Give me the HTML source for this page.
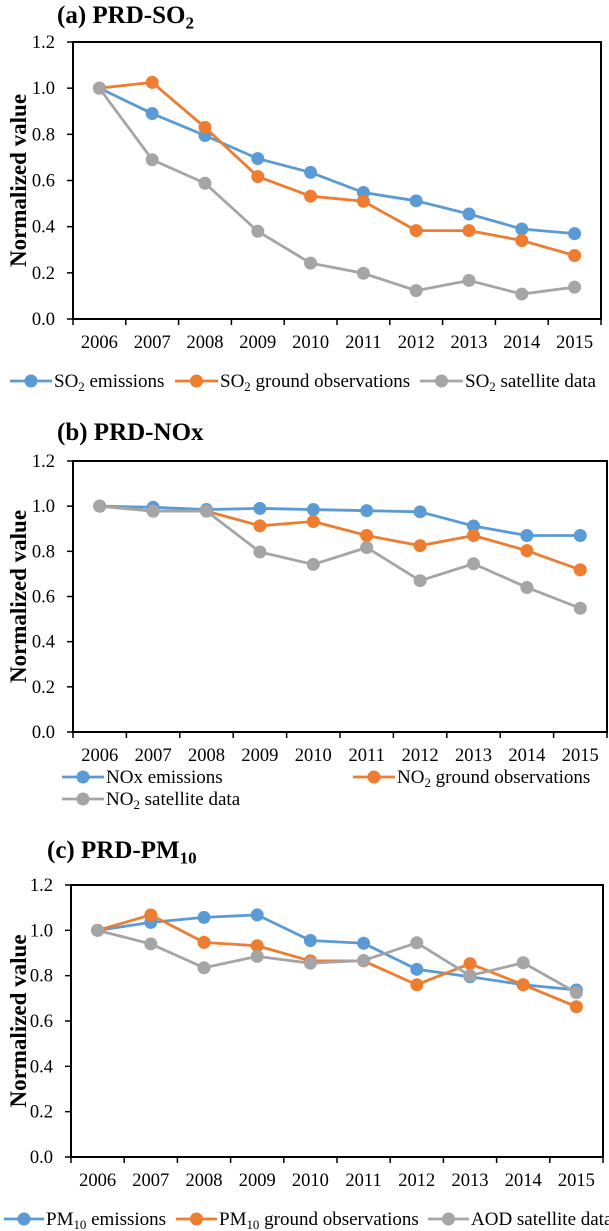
<!DOCTYPE html>
<html><head><meta charset="utf-8"><style>
html,body{margin:0;padding:0;background:#fff;}
svg{display:block;}
svg text{font-family:"Liberation Serif",serif;}
</style></head><body>
<svg id="fig" width="609" height="1231" viewBox="0 0 609 1231" xmlns="http://www.w3.org/2000/svg"></svg>
<script>
const years = ["2006","2007","2008","2009","2010","2011","2012","2013","2014","2015"];
const yTicks = [0,0.2,0.4,0.6,0.8,1.0,1.2];
const so2Emis = [1,0.89,0.795,0.695,0.635,0.548,0.512,0.455,0.39,0.37];
const so2Ground = [1,1.025,0.83,0.617,0.532,0.51,0.383,0.383,0.34,0.275];
const so2Sat = [1,0.69,0.588,0.38,0.242,0.198,0.123,0.167,0.108,0.138];
const noxEmis = [1,0.995,0.985,0.99,0.985,0.98,0.975,0.912,0.87,0.87];
const no2Ground = [1,0.978,0.978,0.913,0.932,0.87,0.825,0.87,0.803,0.718];
const no2Sat = [1,0.978,0.978,0.797,0.742,0.817,0.67,0.745,0.64,0.548];
const pmEmis = [1,1.035,1.057,1.068,0.955,0.943,0.828,0.795,0.76,0.737];
const pmGround = [1,1.068,0.947,0.932,0.865,0.865,0.76,0.853,0.76,0.663];
const aodSat = [1,0.94,0.835,0.885,0.855,0.867,0.945,0.80,0.857,0.725];

const NS="http://www.w3.org/2000/svg";
const svg=document.getElementById('fig');
const COL={blue:"#5B9BD5",orange:"#ED7D31",gray:"#A5A5A5"};
const FF="'Liberation Serif', serif";
function mk(tag,attrs,parent){const e=document.createElementNS(NS,tag);for(const k in attrs)e.setAttribute(k,attrs[k]);if(tag==='text')e.setAttribute('font-family',FF);(parent||svg).appendChild(e);return e;}
function richText(parent,x,y,parts,size,weight){
  const t=mk('text',{x:x,y:y,'font-size':size,'font-weight':weight||'normal',fill:'#000'},parent);
  let prevSub=false;
  parts.forEach(p=>{
    const s=mk('tspan',{},t);s.textContent=p[0];
    if(p[1]){s.setAttribute('font-size',size*0.68);s.setAttribute('dy',size*0.22);}
    else if(prevSub){s.setAttribute('dy',-size*0.22);}
    prevSub=!!p[1];
  });
  return t;
}
function panel(cfg){
  const g=mk('g',{});
  
  
  const {L,R,T,B}=cfg;
  const xs=i=>L+(i+0.5)*(R-L)/years.length;
  const ys=v=>B-(v/1.2)*(B-T);
  const title=richText(g,cfg.tx,cfg.ty,cfg.title,25,'bold');
  
  
  const box=mk('rect',{x:L,y:T,width:R-L,height:B-T,fill:'none',stroke:'#000','stroke-width':2},g);
  
  
  yTicks.forEach(v=>{
    mk('line',{x1:L-6,x2:L,y1:ys(v),y2:ys(v),stroke:'#000','stroke-width':1.5},g);
    const t=mk('text',{x:L-18,y:ys(v)+6,'font-size':18.5,'text-anchor':'end'},g);
    t.textContent=v.toFixed(1);
    
    
  });
  for(let i=0;i<=years.length;i++){
    const x=L+i*(R-L)/years.length;
    mk('line',{x1:x,x2:x,y1:B,y2:B+6,stroke:'#000','stroke-width':1.5},g);
  }
  years.forEach((y,i)=>{
    const t=mk('text',{x:xs(i),y:B+29,'font-size':18.5,'text-anchor':'middle'},g);
    t.textContent=y;
    
    
  });
  const yt=mk('text',{x:0,y:0,'font-size':23,'font-weight':'bold','text-anchor':'middle',transform:`translate(26,${(T+B)/2}) rotate(-90)`},g);
  yt.textContent='Normalized value';
  
  
  cfg.series.forEach(s=>{
    const sg=mk('g',{},g);
    
    
    mk('polyline',{points:s.data.map((v,i)=>xs(i)+','+ys(v)).join(' '),fill:'none',stroke:COL[s.c],'stroke-width':2.8,'stroke-linejoin':'round'},sg);
    s.data.forEach((v,i)=>{
      const c=mk('circle',{cx:xs(i),cy:ys(v),r:6.5,fill:COL[s.c]},sg);
      
      
    });
  });
  cfg.legend.forEach(l=>{
    const lg=mk('g',{},g);
    
    
    mk('line',{x1:l.x1,x2:l.x2,y1:l.y,y2:l.y,stroke:COL[l.c],'stroke-width':2.8},lg);
    mk('circle',{cx:(l.x1+l.x2)/2,cy:l.y,r:6.5,fill:COL[l.c]},lg);
    richText(lg,l.x2+2,l.y+6,l.text,19);
  });
}
panel({name:'panel-a-so2',L:73,R:601,T:42,B:319,tx:57,ty:23,title:[['(a) PRD-SO'],['2',1]],
  series:[{name:'so2-emissions-line',data:so2Emis,c:'blue'},{name:'so2-ground-line',data:so2Ground,c:'orange'},{name:'so2-satellite-line',data:so2Sat,c:'gray'}],
  legend:[{x1:10,x2:52,y:381,c:'blue',text:[['SO'],['2',1],[' emissions']]},
          {x1:175,x2:218,y:381,c:'orange',text:[['SO'],['2',1],[' ground observations']]},
          {x1:420,x2:463,y:381,c:'gray',text:[['SO'],['2',1],[' satellite data']]}]});
panel({name:'panel-b-nox',L:73,R:607,T:461,B:732,tx:57,ty:440,title:[['(b) PRD-NOx']],
  series:[{name:'nox-emissions-line',data:noxEmis,c:'blue'},{name:'no2-ground-line',data:no2Ground,c:'orange'},{name:'no2-satellite-line',data:no2Sat,c:'gray'}],
  legend:[{x1:62,x2:104,y:777,c:'blue',text:[['NOx emissions']]},
          {x1:353,x2:395,y:777,c:'orange',text:[['NO'],['2',1],[' ground observations']]},
          {x1:62,x2:104,y:799,c:'gray',text:[['NO'],['2',1],[' satellite data']]}]});
panel({name:'panel-c-pm10',L:71,R:603,T:885,B:1157,tx:47,ty:858,title:[['(c) PRD-PM'],['10',1]],
  series:[{name:'pm10-emissions-line',data:pmEmis,c:'blue'},{name:'pm10-ground-line',data:pmGround,c:'orange'},{name:'aod-satellite-line',data:aodSat,c:'gray'}],
  legend:[{x1:4,x2:44,y:1219,c:'blue',text:[['PM'],['10',1],[' emissions']]},
          {x1:176,x2:217,y:1219,c:'orange',text:[['PM'],['10',1],[' ground observations']]},
          {x1:428,x2:469,y:1219,c:'gray',text:[['AOD satellite data']]}]});
</script>
</body></html>
